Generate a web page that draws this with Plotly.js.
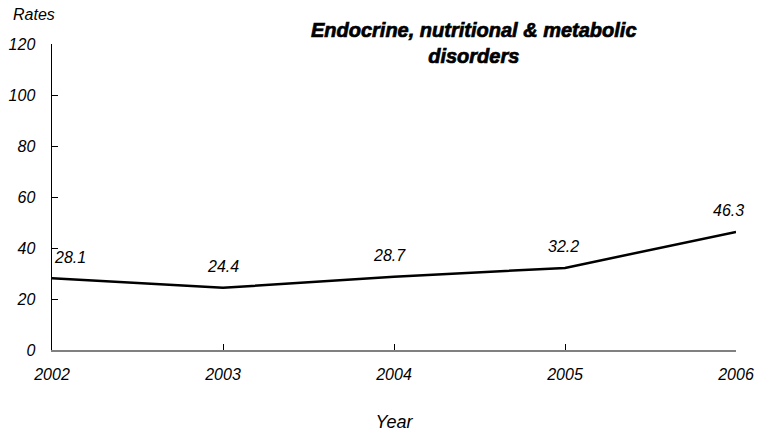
<!DOCTYPE html>
<html><head><meta charset="utf-8">
<script src="https://cdn.plot.ly/plotly-3.0.1.min.js"></script>
<style>body{margin:0;background:#fff}#c{width:758px;height:435px}
.gtitle{stroke:#000;stroke-width:0.7px}</style>
</head><body><div id="c"></div>
<script>
const years = [2002, 2003, 2004, 2005, 2006];
const rates = [28.1, 24.4, 28.7, 32.2, 46.3];
const labels = ['28.1', '24.4', '28.7', '32.2', '46.3'];
const yTicks = [0, 20, 40, 60, 80, 100, 120];
const titleText = 'Endocrine, nutritional & metabolic<br>disorders';
const yTitle = 'Rates';
const xTitle = 'Year';

const fontFam = 'Liberation Sans, Arial, sans-serif';
const trace = {
  x: years, y: rates, type: 'scatter', mode: 'lines',
  line: {color: '#000', width: 2.5},
  cliponaxis: false, hoverinfo: 'skip'
};
const anchors = ['left', 'center', 'center', 'center', 'center'];
const xshifts = [0, 0, -5, -2, -8];
const labelAnn = years.map((yr, i) => ({
  x: yr, y: rates[i], xref: 'x', yref: 'y', text: '<i>' + labels[i] + '</i>',
  showarrow: false, xanchor: anchors[i], yanchor: 'middle', yshift: 21, xshift: xshifts[i],
  font: {family: fontFam, size: 16, color: '#000'}
}));
const layout = {
  width: 758, height: 435,
  margin: {l: 52, r: 22, t: 44, b: 85},
  paper_bgcolor: '#fff', plot_bgcolor: '#fff',
  showlegend: false,
  font: {family: fontFam, color: '#000'},
  title: {text: '<b><i>' + titleText + '</i></b>', x: 0.625, xanchor: 'center', y: 0.915, yanchor: 'top',
    font: {family: fontFam, size: 20, color: '#000'}},
  xaxis: {
    range: [2002, 2006], tickvals: years, ticktext: years.map(v => '<i>' + v + '</i>'),
    showgrid: false, zeroline: false, showline: true, linecolor: '#808080', linewidth: 1.5,
    ticks: 'inside', ticklen: 6, tickcolor: '#000', tickwidth: 1,
    ticklabelstandoff: 9,
    tickfont: {family: fontFam, size: 16, color: '#000', style: 'italic'},
    title: {text: '<i>' + xTitle + '</i>', font: {family: fontFam, size: 18, color: '#000'}, standoff: 33}
  },
  yaxis: {
    range: [0, 120], tickvals: yTicks, ticktext: yTicks.map(v => '<i>' + v + '</i>'),
    showgrid: false, zeroline: false, showline: true, linecolor: '#000', linewidth: 1.5,
    ticks: 'inside', ticklen: 6, tickcolor: '#000', tickwidth: 1,
    ticklabelstandoff: 12,
    tickfont: {family: fontFam, size: 16, color: '#000', style: 'italic'}
  },
  annotations: [{
    text: '<i>' + yTitle + '</i>', xref: 'paper', yref: 'paper', x: -0.06, y: 1.095, xanchor: 'left', yanchor: 'middle',
    showarrow: false, font: {family: fontFam, size: 16, color: '#000'}
  }].concat(labelAnn)
};
Plotly.newPlot('c', [trace], layout, {displayModeBar: false, staticPlot: true});
</script></body></html>
